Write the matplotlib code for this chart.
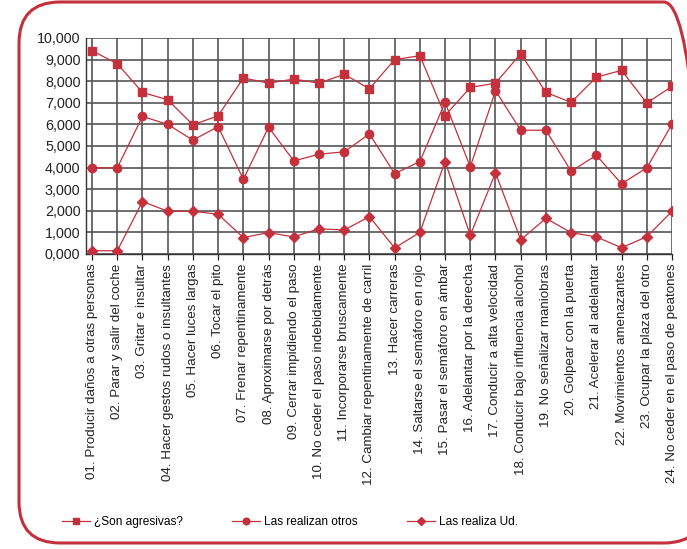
import matplotlib
matplotlib.use("Agg")
import matplotlib.pyplot as plt
from matplotlib.patches import FancyBboxPatch
from matplotlib.ticker import FuncFormatter

categories = [
    "01. Producir daños a otras personas",
    "02. Parar y salir del coche",
    "03. Gritar e insultar",
    "04. Hacer gestos rudos o insultantes",
    "05. Hacer luces largas",
    "06. Tocar el pito",
    "07. Frenar repentinamente",
    "08. Aproximarse por detrás",
    "09. Cerrar impidiendo el paso",
    "10. No ceder el paso indebidamente",
    "11. Incorporarse bruscamente",
    "12. Cambiar repentinamente de carril",
    "13. Hacer carreras",
    "14. Saltarse el semáforo en rojo",
    "15. Pasar el semáforo en ámbar",
    "16. Adelantar por la derecha",
    "17. Conducir a alta velocidad",
    "18. Conducir bajo influencia alcohol",
    "19. No señalizar maniobras",
    "20. Golpear con la puerta",
    "21. Acelerar al adelantar",
    "22. Movimientos amenazantes",
    "23. Ocupar la plaza del otro",
    "24. No ceder en el paso de peatones",
]

son_agresivas = [9.41, 8.81, 7.48, 7.14, 5.98, 6.40, 8.15, 7.91, 8.10, 7.91, 8.32, 7.65,
                 9.00, 9.18, 6.41, 7.71, 7.91, 9.27, 7.48, 7.02, 8.19, 8.50, 6.99, 7.76]
realizan_otros = [3.99, 3.99, 6.37, 6.00, 5.27, 5.90, 3.46, 5.87, 4.31, 4.62, 4.73, 5.56,
                  3.72, 4.28, 7.02, 4.03, 7.56, 5.73, 5.73, 3.83, 4.57, 3.25, 3.99, 6.01]
realiza_ud = [0.15, 0.15, 2.43, 1.98, 1.98, 1.84, 0.76, 0.99, 0.79, 1.17, 1.11, 1.73,
              0.28, 1.00, 4.28, 0.87, 3.76, 0.66, 1.65, 0.99, 0.79, 0.29, 0.80, 1.98]

series_labels = ["¿Son agresivas?", "Las realizan otros", "Las realiza Ud."]

RED = "#C4303B"
W, H = 687, 549
plt.rcParams['font.family'] = ['Liberation Sans', 'DejaVu Sans']

fig = plt.figure(figsize=(W / 100, H / 100), dpi=100)

# rounded frame
frame = FancyBboxPatch((19 / W, 6 / H), (705 - 19) / W, (547 - 6) / H,
                       boxstyle="round,pad=0,rounding_size=0.06",
                       transform=fig.transFigure, fill=False,
                       edgecolor=RED, linewidth=2.2, mutation_aspect=W / H,
                       clip_on=False)
fig.patches.append(frame)

ax = fig.add_axes([86 / W, 1 - 254 / H, (672 - 86) / W, (254 - 38) / H])
x = list(range(len(categories)))

ax.plot(x, son_agresivas, color=RED, lw=0.9, marker='s', ms=6, label=series_labels[0], zorder=3)
ax.plot(x, realizan_otros, color=RED, lw=0.9, marker='o', ms=6, label=series_labels[1], zorder=3)
ax.plot(x, realiza_ud, color=RED, lw=0.9, marker='D', ms=5.5, label=series_labels[2], zorder=3)

ax.set_xlim(-0.24, len(categories) - 1)
ax.set_ylim(0, 10)
ax.set_yticks(range(0, 11))
ax.yaxis.set_major_formatter(FuncFormatter(lambda v, p: f"{int(round(v))},000"))
ax.set_xticks(x)
ax.set_xticklabels(categories, rotation=90, fontsize=9.6, color='#222222')
ax.tick_params(axis='y', labelsize=10.3, colors='#222222', length=0, pad=4)
ax.tick_params(axis='x', length=4, width=0.9, pad=3, colors='#222222')
ax.grid(True, color='#555555', lw=1.2, zorder=0)
ax.set_axisbelow(True)
for s in ['top', 'right']:
    ax.spines[s].set_visible(False)
for s in ['left', 'bottom']:
    ax.spines[s].set_color('#333333')
    ax.spines[s].set_linewidth(1.0)

handles, labels = ax.get_legend_handles_labels()
fig.legend(handles, labels, loc='center left', bbox_to_anchor=(58 / W, 1 - 522 / H),
           ncol=3, frameon=False, fontsize=8.6, handlelength=2.4, handletextpad=0.3,
           columnspacing=4.1, markerscale=0.8, borderaxespad=0, borderpad=0.3)

fig.savefig("out.png", dpi=100)
